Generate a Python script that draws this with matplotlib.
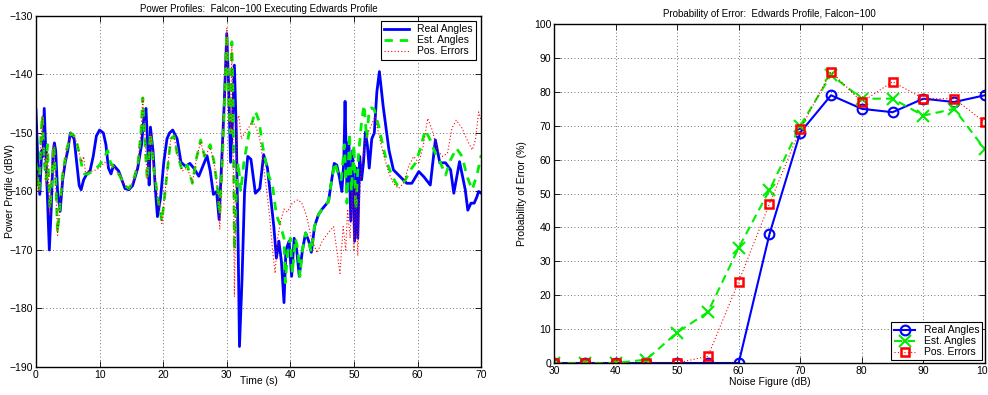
import matplotlib
matplotlib.use("Agg")
import matplotlib.pyplot as plt

# ---- left panel: power profiles (time s, power dBW)
real_pts = [(0, -146), (0.3, -155), (0.6, -160.5), (0.9, -153), (1.1, -154), (1.3, -145.8), (1.6, -155),
            (1.9, -164), (2.1, -170), (2.4, -163), (2.7, -153), (2.9, -151.7), (3.1, -153), (3.4, -160),
            (3.8, -163.4), (4.2, -158), (4.6, -155), (5.0, -153), (5.4, -150), (6.0, -151), (6.4, -155),
            (6.8, -159), (7.1, -159.7), (7.5, -158), (8.0, -157), (8.5, -156.5), (9.0, -154), (9.5, -150.5),
            (10.0, -149.5), (10.6, -150), (11.0, -152), (11.4, -156), (11.8, -157), (12.2, -155.5), (12.6, -156),
            (13.0, -156.5), (13.5, -158), (14.0, -159.5), (14.6, -159.7), (15.2, -159), (16.0, -156), (16.6, -152),
            (17.0, -147), (17.3, -145.8), (17.6, -153), (17.8, -158.9), (18.0, -149), (18.4, -153), (18.8, -160),
            (19.1, -164.3), (19.6, -161), (20.1, -155), (20.6, -151), (21.0, -150), (21.5, -149.5), (22.2, -151),
            (22.8, -155), (23.5, -155.7), (24.2, -155.2), (24.8, -156), (25.6, -157.4), (26.3, -155.5), (26.9, -153.9),
            (27.4, -156.5), (27.9, -160.5), (28.4, -160), (28.8, -164.8), (29.2, -155), (29.6, -145), (30.0, -133),
            (30.3, -142), (30.6, -155), (30.9, -148), (31.2, -138.4), (31.5, -150), (31.8, -170), (32.0, -186.5),
            (32.4, -175), (32.8, -160), (33.3, -154), (33.8, -154.5), (34.5, -160.3), (35.2, -159.5), (35.8, -153.7),
            (36.4, -156), (37.0, -162), (37.4, -166), (37.8, -171.4), (38.2, -168.5), (38.6, -172), (39.0, -179),
            (39.3, -170), (39.8, -168.5), (40.2, -174.5), (40.6, -168), (41.0, -170), (41.4, -174.5), (41.9, -170),
            (42.4, -167.1), (42.9, -168.5), (43.3, -170.4), (43.8, -166), (44.4, -164), (45.0, -163), (46.0, -161.7),
            (46.5, -158), (46.9, -155.2), (47.3, -155.5), (47.7, -157.5), (48.1, -160), (48.4, -155), (48.6, -144.6),
            (48.9, -160), (49.2, -151.5), (49.5, -165), (49.8, -153), (50.1, -168.5), (50.4, -156), (50.6, -168),
            (50.9, -154), (51.2, -158), (51.5, -155), (51.8, -149.8), (52.1, -152), (52.4, -156), (52.8, -151),
            (53.2, -150), (53.6, -143), (54.0, -139.5), (54.6, -145.5), (55.5, -152.9), (56.2, -156.3), (57.3, -157.5),
            (58.3, -158.6), (59.1, -158.6), (60.2, -156.6), (61.0, -157.5), (62.0, -158.9), (62.8, -151.2),
            (63.5, -155.1), (64.4, -155.1), (65.2, -156.3), (65.7, -160.3), (66.6, -154.9), (67.5, -159.7),
            (67.9, -163.2), (68.4, -162), (68.9, -162), (69.3, -161), (69.6, -160), (70.0, -160.3)]

est_pts = [(0, -155), (0.3, -158), (0.5, -160), (0.8, -150), (1.0, -147), (1.3, -155), (1.6, -158), (1.8, -152),
           (2.2, -163), (2.5, -158), (2.8, -152), (3.1, -158), (3.4, -167), (3.8, -162), (4.2, -157), (4.8, -153),
           (5.5, -150), (6.0, -150.5), (6.5, -152), (6.9, -154), (7.3, -156), (7.6, -157), (8.2, -157), (9.0, -156.5),
           (10.0, -155.5), (10.8, -154), (11.3, -153), (11.7, -155), (12.3, -156), (13.0, -157), (14.0, -159),
           (14.6, -159.5), (15.2, -158.5), (16.0, -155.5), (16.5, -150), (16.8, -144), (17.2, -153), (17.5, -158),
           (18.0, -150), (18.5, -156), (19.3, -162), (19.8, -165.1), (20.5, -158), (21.2, -151), (21.7, -150.5),
           (22.2, -153.5), (23.0, -156.5), (23.8, -155.5), (24.6, -158.6), (25.3, -154), (25.9, -151.2), (26.5, -154),
           (27.4, -152), (28.0, -155), (28.6, -160), (28.9, -164), (29.3, -155), (29.6, -146), (30.0, -133),
           (30.3, -145), (30.6, -150), (30.8, -134.4), (31.0, -145), (31.2, -170), (31.5, -160), (31.8, -155),
           (32.2, -160), (32.7, -155), (33.5, -150), (34.5, -146.3), (35.1, -148), (35.6, -152), (36.5, -157),
           (37.2, -159), (37.8, -164), (38.5, -166), (39.0, -168), (39.2, -175.6), (39.6, -170), (40.0, -168),
           (40.3, -174), (40.8, -168), (41.2, -170), (41.5, -174.5), (41.9, -170), (42.4, -167.1), (42.9, -168.5),
           (43.3, -170.4), (43.8, -166), (44.4, -164), (45.0, -163), (46.0, -161.7), (46.5, -158), (47.0, -155),
           (47.5, -157), (48.0, -158), (48.5, -152), (48.9, -162), (49.3, -150), (49.6, -160), (50.0, -152),
           (50.3, -163), (50.7, -154), (51.2, -148), (51.6, -145.2), (52.0, -151), (52.4, -146), (52.8, -145.7),
           (53.2, -146), (53.9, -148.9), (54.7, -152.9), (55.2, -155.1), (56.0, -157.4), (56.8, -158.9),
           (57.3, -159.1), (58.1, -158), (58.9, -156.3), (59.7, -155.1), (60.4, -152.8), (61.2, -149.5),
           (62.0, -151.2), (62.8, -153.5), (63.6, -155.1), (64.4, -157.2), (65.2, -154.6), (66.1, -152.6),
           (67.0, -154), (67.8, -157.5), (68.6, -159.7), (69.4, -156.9), (70.0, -153.8)]

pos_pts = [(0, -156), (0.3, -159), (0.5, -160), (0.8, -151), (1.0, -147), (1.3, -154), (1.6, -159), (1.8, -153),
           (2.2, -164), (2.5, -157), (2.8, -152), (3.1, -159), (3.4, -167.5), (3.8, -162), (4.2, -157), (4.8, -153),
           (5.5, -150), (6.0, -150.5), (6.5, -152), (6.9, -154), (7.2, -155), (7.5, -154), (7.8, -157),
           (8.2, -156.5), (9.0, -156.5), (10.0, -156), (10.8, -155), (11.3, -155.5), (12.0, -155.5), (13.0, -157),
           (14.0, -159), (14.6, -159.5), (15.2, -158.5), (16.0, -155.5), (16.5, -150), (16.8, -144), (17.2, -152),
           (17.5, -158), (18.0, -150), (18.5, -156), (19.3, -162), (19.8, -165.5), (20.5, -158), (21.2, -151),
           (21.7, -150.5), (22.2, -153.5), (23.0, -156.5), (23.8, -156), (24.6, -158.5), (25.3, -154),
           (25.9, -151.5), (26.5, -154), (27.4, -152.5), (28.0, -155), (28.6, -160), (28.9, -166.5), (29.3, -156),
           (29.6, -145), (30.0, -132), (30.3, -145), (30.6, -150), (30.8, -135), (31.0, -150), (31.2, -178),
           (31.4, -165), (31.6, -148), (31.9, -147), (32.3, -151), (32.8, -150), (33.5, -149), (34.0, -148),
           (34.6, -149), (35.2, -151), (35.7, -155), (36.3, -160), (36.8, -165), (37.2, -170), (37.6, -174),
           (38.0, -168), (38.5, -165), (39.0, -163), (39.5, -163.5), (40.3, -162), (41.2, -161.4), (41.8, -162),
           (42.5, -164), (43.3, -168), (44.2, -170.5), (45.0, -168.5), (46.0, -167), (46.8, -166), (47.3, -170),
           (47.8, -174), (48.3, -166), (48.7, -170), (49.0, -163), (49.4, -168), (49.7, -160), (50.0, -170),
           (50.3, -159), (50.6, -171), (51.0, -158), (51.6, -152.4), (52.2, -150), (52.8, -148.5), (53.3, -147.2),
           (54.1, -151.2), (54.6, -153.5), (55.5, -156.9), (56.2, -158.6), (57.0, -159.5), (57.8, -158.6),
           (58.6, -155.7), (59.4, -154), (60.2, -155.1), (60.9, -152.2), (61.6, -147.5), (62.3, -149.5),
           (63.1, -152.9), (63.9, -154), (64.7, -153.5), (65.4, -149.2), (66.1, -147.8), (67.0, -149.2),
           (67.8, -151.2), (68.6, -152.9), (69.1, -151.2), (69.6, -146.4), (70.0, -147.8)]

# ---- right panel: probability of error vs noise figure
noise_fig = [30, 35, 40, 45, 50, 55, 60, 65, 70, 75, 80, 85, 90, 95, 100]
pe_real = [0, 0, 0, 0, 0, 0, 0, 38, 68, 79, 75, 74, 78, 77, 79]
pe_est = [0, 0, 0, 1, 9, 15, 34, 51, 70, 85, 78, 78, 73, 75, 63]
pe_pos = [0, 0, 0, 0, 0, 2, 24, 47, 69, 86, 77, 83, 78, 78, 71]

labels = ["Real Angles", "Est. Angles", "Pos. Errors"]
blue, green, red = "#0000ff", "#00ee00", "#ff0000"

plt.rcParams['font.family'] = ['Liberation Sans', 'DejaVu Sans']

fig = plt.figure(figsize=(9.88, 3.95), dpi=100)
ax1 = fig.add_axes([0.0364, 0.071, 0.4506, 0.8885])
ax2 = fig.add_axes([0.5607, 0.081, 0.4362, 0.858])


def style(ax):
    ax.grid(True, linestyle=(0, (1, 3)), color="#444444", linewidth=0.6)
    ax.tick_params(direction="in", top=True, right=True, labelsize=7.5, length=4, width=0.6, pad=2)
    for s in ax.spines.values():
        s.set_linewidth(1.0)


# left
t, v = zip(*real_pts)
ax1.plot(t, v, color=blue, lw=2.0, label=labels[0])
t, v = zip(*est_pts)
ax1.plot(t, v, color=green, lw=2.0, ls=(0, (3, 2.5)), label=labels[1])
t, v = zip(*pos_pts)
ax1.plot(t, v, color=red, lw=0.8, ls=(0, (1, 2)), label=labels[2])
ax1.set_xlim(0, 70)
ax1.set_ylim(-190, -130)
ax1.set_xticks(range(0, 71, 10))
ax1.set_yticks(range(-190, -129, 10))
ax1.set_yticklabels(["\u2212%d" % -y for y in range(-190, -129, 10)])
style(ax1)
ax1.set_title("Power Profiles:  Falcon\u2212100 Executing Edwards Profile", fontsize=7, pad=3)
ax1.set_xlabel("Time (s)", fontsize=7.5)
ax1.set_ylabel("Power Profile (dBW)", fontsize=7.5)
ax1.xaxis.set_label_coords(0.5, -0.025)
ax1.yaxis.set_label_coords(-0.046, 0.5)
leg = ax1.legend(loc="upper right", fontsize=7.5, fancybox=False, framealpha=1, edgecolor="black",
                 borderaxespad=0.5, handlelength=2.4, labelspacing=0.1, borderpad=0.3)
leg.get_frame().set_linewidth(0.8)

# right
ax2.plot(noise_fig, pe_real, color=blue, lw=1.5, marker="o", ms=7, mfc="none", mew=1.5, label=labels[0])
ax2.plot(noise_fig, pe_est, color=green, lw=1.5, ls=(0, (4, 2.5)), marker="x", ms=8, mew=1.5, label=labels[1])
ax2.plot(noise_fig, pe_pos, color=red, lw=0.8, ls=(0, (1, 2)), marker="s", ms=6, mfc="none", mew=1.8,
         label=labels[2])
ax2.set_xlim(30, 100)
ax2.set_ylim(0, 100)
ax2.set_xticks(range(30, 101, 10))
ax2.set_yticks(range(0, 101, 10))
style(ax2)
ax2.set_title("Probability of Error:  Edwards Profile, Falcon\u2212100", fontsize=7, pad=5)
ax2.set_xlabel("Noise Figure (dB)", fontsize=7.5)
ax2.set_ylabel("Probability of Error (%)", fontsize=7.5)
ax2.xaxis.set_label_coords(0.5, -0.04)
ax2.yaxis.set_label_coords(-0.062, 0.5)
leg2 = ax2.legend(loc="lower right", fontsize=7.5, fancybox=False, framealpha=1, edgecolor="black",
                  borderaxespad=0.25, handlelength=2.0, labelspacing=0.1, borderpad=0.3)
leg2.get_frame().set_linewidth(0.8)

fig.savefig("out.png", dpi=100)
